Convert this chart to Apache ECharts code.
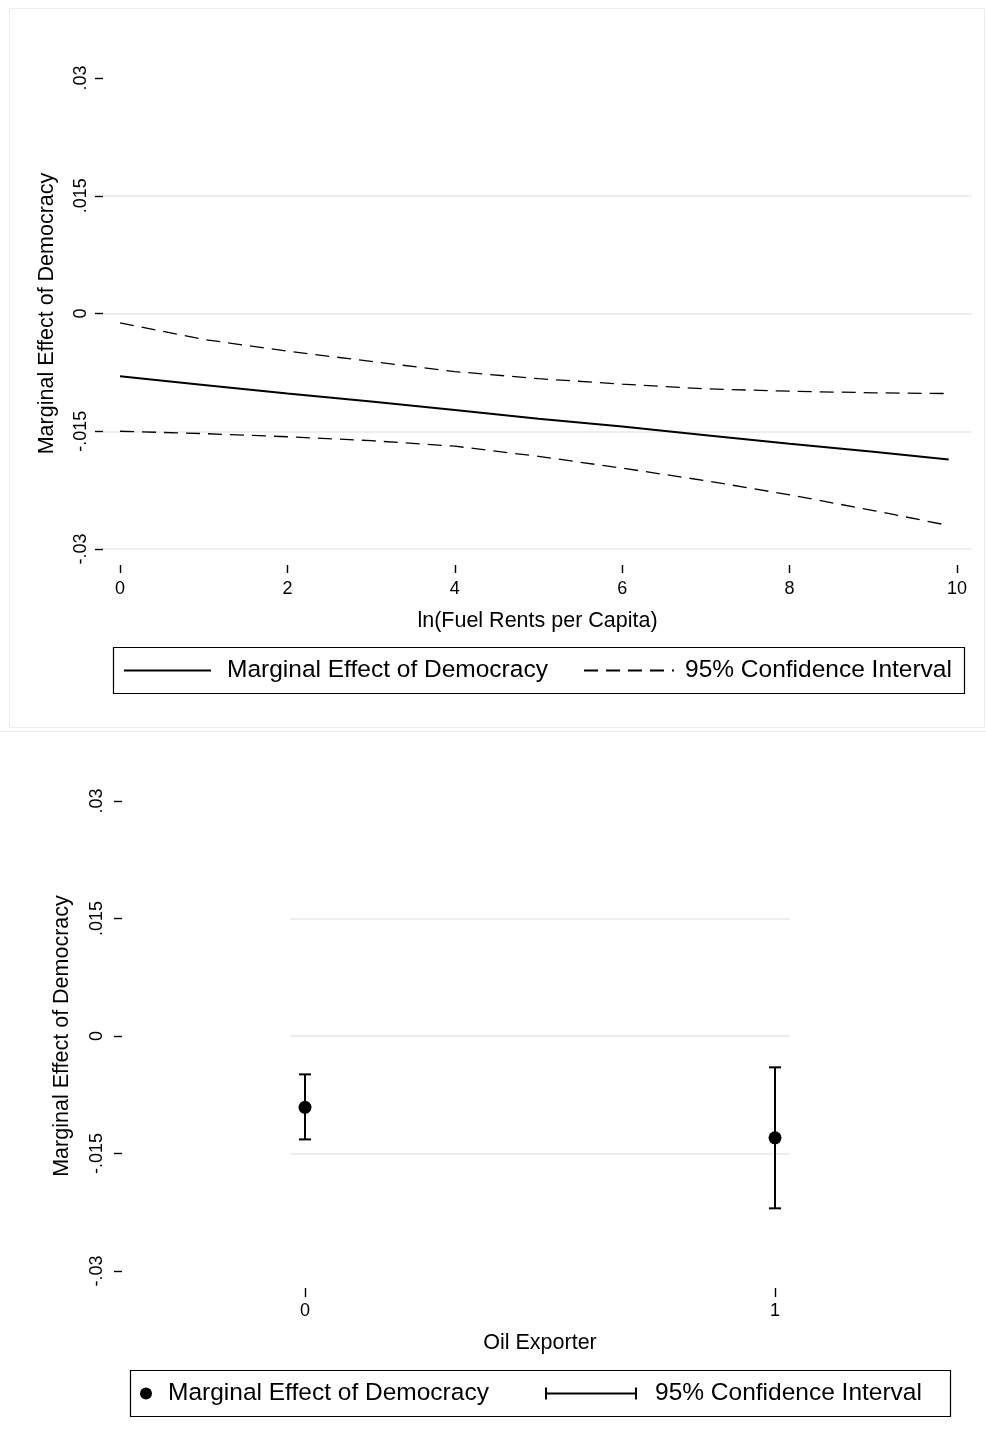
<!DOCTYPE html>
<html><head><meta charset="utf-8">
<script src="https://cdn.jsdelivr.net/npm/echarts@6/dist/echarts.min.js"></script>
<style>html,body{margin:0;padding:0;background:#fff}#c{width:986px;height:1444px}</style>
</head><body><div id="c"></div>
<script>
// ---- data ----
const fuelRents = [0, 1, 2, 3, 4, 5, 6, 7, 8, 9, 9.9];
const marginalEffect = [-0.0080, -0.0091, -0.0102, -0.0112, -0.0123, -0.0134, -0.0144, -0.0155, -0.0166, -0.0176, -0.0186];
const upperCI = [-0.0012, -0.0033, -0.0048, -0.0061, -0.0074, -0.0083, -0.0090, -0.0096, -0.0099, -0.0101, -0.0102];
const lowerCI = [-0.0150, -0.0153, -0.0157, -0.0162, -0.0169, -0.0182, -0.0197, -0.0213, -0.0231, -0.0251, -0.0270];
const fuelTicks = [0, 2, 4, 6, 8, 10];

const oilExporter = [0, 1];
const oilEffect = [-0.0091, -0.0130];
const oilLow = [-0.0132, -0.0220];
const oilHigh = [-0.0049, -0.0040];
const oilTicks = [0, 1];

const yTickValues = [-0.03, -0.015, 0, 0.015, 0.03];
const yTickLabels = ['-.03', '-.015', '0', '.015', '.03'];
const legendNames = ['Marginal Effect of Democracy', '95% Confidence Interval'];
const topXTitle = 'ln(Fuel Rents per Capita)';
const bottomXTitle = 'Oil Exporter';
const yTitle = 'Marginal Effect of Democracy';

// ---- chart ----
const FONT = '"Liberation Sans", Arial, Helvetica, sans-serif';
const fmtY = v => { const i = yTickValues.findIndex(t => Math.abs(t - v) < 1e-9); return i >= 0 ? yTickLabels[i] : ''; };
const tickLine = { color: '#000', width: 1.4 };
const gridLine = { color: '#e8e8e8', width: 1.5 };

function makeY(gridIndex, offset, margin, nameGap, showMin) {
  return {
    type: 'value', gridIndex, min: -0.03, max: 0.03, interval: 0.015, offset,
    axisLine: { show: false, onZero: false },
    axisTick: { show: true, length: 8, lineStyle: tickLine },
    axisLabel: { rotate: 90, margin, fontSize: 18, color: '#000', fontFamily: FONT, formatter: fmtY },
    splitLine: { show: true, showMinLine: showMin, showMaxLine: false, lineStyle: gridLine },
    name: yTitle, nameLocation: 'middle', nameGap,
    nameTextStyle: { fontSize: 21.5, color: '#000', fontFamily: FONT }
  };
}
function makeX(gridIndex, min, max, ticks, offset, tickLen, margin, name, nameGap) {
  return {
    type: 'value', gridIndex, min, max, offset,
    axisLine: { show: false, onZero: false },
    axisTick: { show: true, length: tickLen, customValues: ticks, lineStyle: tickLine },
    axisLabel: { customValues: ticks, margin, fontSize: 18, color: '#000', fontFamily: FONT },
    splitLine: { show: false },
    name, nameLocation: 'middle', nameGap,
    nameTextStyle: { fontSize: 21.5, color: '#000', fontFamily: FONT }
  };
}
const legendText = (pad) => ({ fontSize: 24.5, color: '#000', fontFamily: FONT, padding: [0, 0, 0, pad] });

const option = {
  animation: false,
  backgroundColor: '#fff',
  grid: [
    { left: 103, top: 78, width: 869, height: 471 },
    { left: 290, top: 801, width: 500, height: 470 }
  ],
  xAxis: [
    makeX(0, -0.2031, 10.179, fuelTicks, 16, 8, 15, topXTitle, 45),
    makeX(1, -0.0319, 1.0319, oilTicks, 17, 9, 14, bottomXTitle, 44)
  ],
  yAxis: [
    makeY(0, 0, 12.5, 45, true),
    makeY(1, 168, 16, 49, false)
  ],
  legend: [
    { data: [legendNames[0]], left: 123, top: 658, padding: 0, itemWidth: 87, itemHeight: 14, selectedMode: false, itemStyle: { opacity: 0 }, textStyle: legendText(11) },
    { data: [legendNames[1]], left: 583, top: 658, padding: 0, itemWidth: 90, itemHeight: 14, selectedMode: false, itemStyle: { opacity: 0 }, textStyle: legendText(6) },
    { data: [{ name: legendNames[0], icon: 'circle' }], left: 140, top: 1381, padding: 0, itemWidth: 12, itemHeight: 12, selectedMode: false, itemStyle: { color: '#000', opacity: 1 }, textStyle: legendText(11) },
    { data: [{ name: legendNames[1], icon: 'path://M0,0H2V12H0Z M0,5H92V7H0Z M90,0H92V12H90Z' }], left: 545, top: 1381, padding: 0, itemWidth: 92, itemHeight: 12, selectedMode: false, itemStyle: { color: '#000', opacity: 1 }, textStyle: legendText(13) }
  ],
  graphic: [
    { type: 'rect', shape: { x: 9.5, y: 8.5, width: 975, height: 719 }, style: { fill: null, stroke: '#ececec', lineWidth: 1 }, silent: true },
    { type: 'line', shape: { x1: 0, y1: 731.5, x2: 986, y2: 731.5 }, style: { stroke: '#ececec', lineWidth: 1 }, silent: true },
    { type: 'rect', shape: { x: 113.5, y: 647.5, width: 851, height: 46 }, style: { fill: null, stroke: '#000', lineWidth: 1.2 }, silent: true },
    { type: 'rect', shape: { x: 130.5, y: 1370.5, width: 820, height: 46 }, style: { fill: null, stroke: '#000', lineWidth: 1.2 }, silent: true }
  ],
  series: [
    {
      name: legendNames[0], type: 'line', xAxisIndex: 0, yAxisIndex: 0, symbol: 'none',
      data: fuelRents.map((x, i) => [x, marginalEffect[i]]),
      color: '#000', lineStyle: { color: '#000', width: 2 }
    },
    {
      name: legendNames[1], type: 'line', xAxisIndex: 0, yAxisIndex: 0, symbol: 'none',
      data: fuelRents.map((x, i) => [x, upperCI[i]]),
      color: '#000', lineStyle: { color: '#000', width: 1.3, type: [14, 8] }
    },
    {
      name: legendNames[1], type: 'line', xAxisIndex: 0, yAxisIndex: 0, symbol: 'none',
      data: fuelRents.map((x, i) => [x, lowerCI[i]]),
      color: '#000', lineStyle: { color: '#000', width: 1.3, type: [14, 8] }
    },
    {
      name: legendNames[1], type: 'custom', xAxisIndex: 1, yAxisIndex: 1,
      data: oilExporter.map((x, i) => [x, oilLow[i], oilHigh[i]]),
      encode: { x: 0, y: [1, 2] }, color: '#000', z: 2,
      renderItem: (params, api) => {
        const x = api.value(0);
        const pLo = api.coord([x, api.value(1)]);
        const pHi = api.coord([x, api.value(2)]);
        const cap = 6;
        const style = { stroke: '#000', lineWidth: 2, fill: null };
        return { type: 'group', children: [
          { type: 'line', shape: { x1: pLo[0], y1: pLo[1], x2: pHi[0], y2: pHi[1] }, style },
          { type: 'line', shape: { x1: pLo[0] - cap, y1: pLo[1], x2: pLo[0] + cap, y2: pLo[1] }, style },
          { type: 'line', shape: { x1: pHi[0] - cap, y1: pHi[1], x2: pHi[0] + cap, y2: pHi[1] }, style }
        ] };
      }
    },
    {
      name: legendNames[0], type: 'scatter', xAxisIndex: 1, yAxisIndex: 1, z: 3,
      data: oilExporter.map((x, i) => [x, oilEffect[i]]),
      symbol: 'circle', symbolSize: 13, itemStyle: { color: '#000', opacity: 1 }
    }
  ]
};
const chart = echarts.init(document.getElementById('c'), null, { renderer: 'canvas' });
chart.setOption(option);
</script>
</body></html>
